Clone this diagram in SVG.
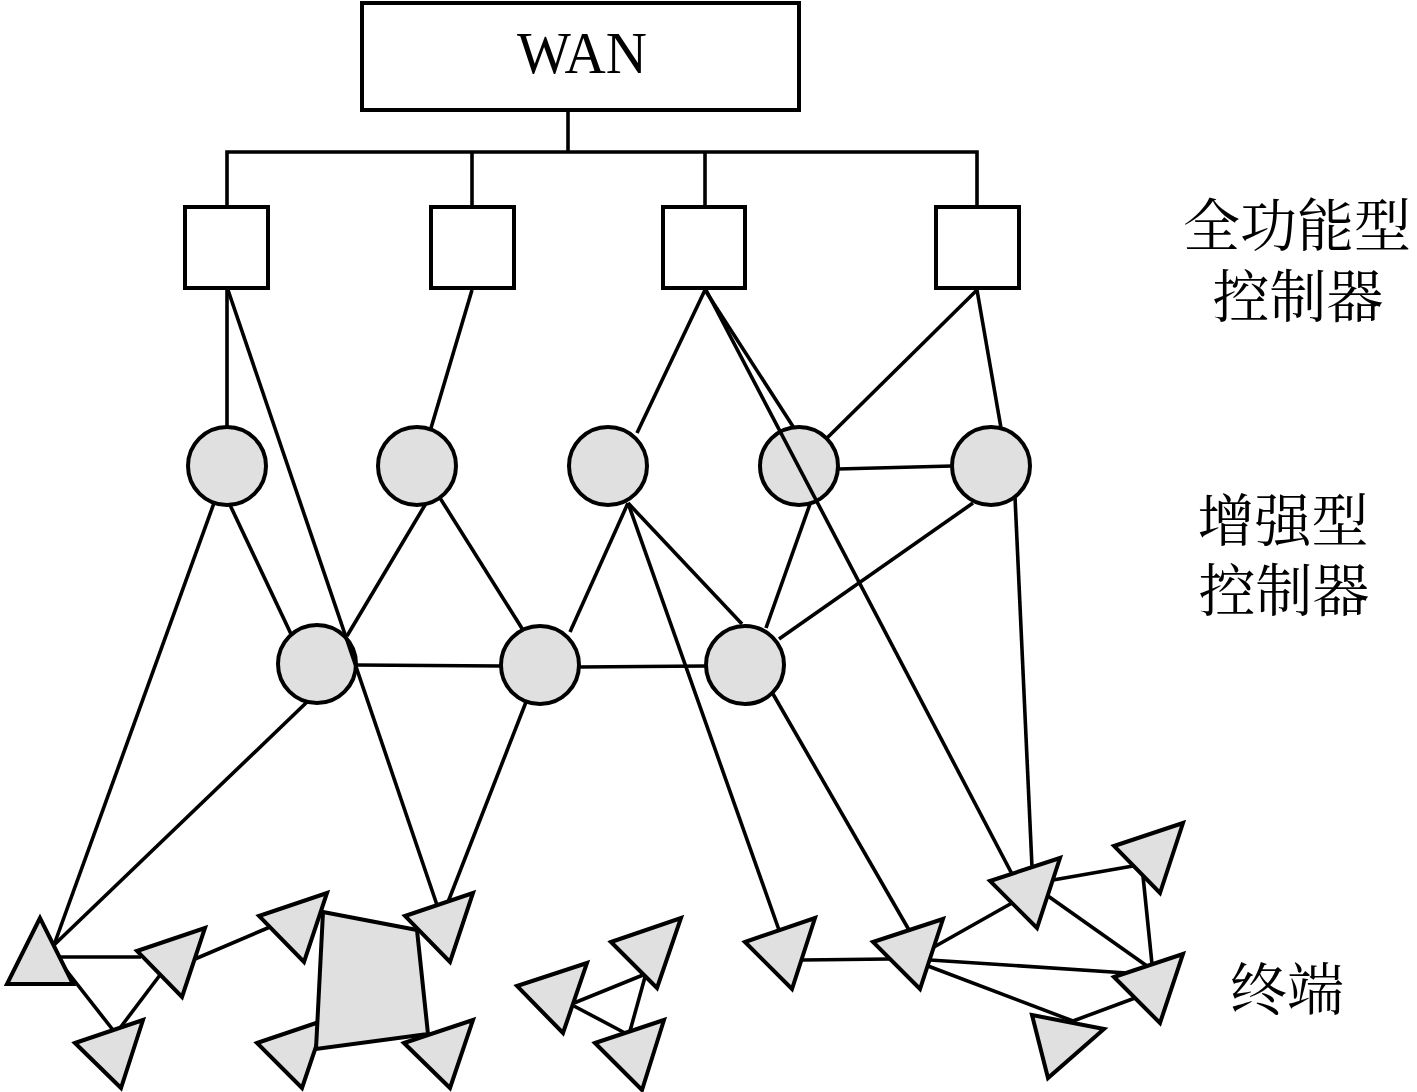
<svg xmlns="http://www.w3.org/2000/svg" width="1417" height="1092" viewBox="0 0 1417 1092">
<style>
.box{fill:#ffffff;stroke:#000;stroke-width:4}
.ec{fill:#e0e0e0;stroke:#000;stroke-width:4}
.tri{fill:#e0e0e0;stroke:#000;stroke-width:4;stroke-linejoin:miter}
.ln{stroke:#000;stroke-width:3.6;fill:none;stroke-linecap:butt}
.lbl{font-family:"Liberation Serif","Noto Serif CJK SC","Noto Sans CJK SC",serif;font-size:57px;fill:#000;text-anchor:middle}
.wan{font-family:"Liberation Serif","Times New Roman",serif;font-size:60px;fill:#000;text-anchor:middle}
</style>
<rect width="1417" height="1092" fill="#ffffff"/>

<g id="nodes">
  <g id="wan"><rect class="box" x="362" y="3" width="437" height="107"/><text class="wan" x="582" y="73" textLength="130" lengthAdjust="spacingAndGlyphs">WAN</text></g>
  <g id="ff1"><rect class="box" x="185" y="207" width="83" height="81"/></g>
  <g id="ff2"><rect class="box" x="431" y="207" width="83" height="81"/></g>
  <g id="ff3"><rect class="box" x="663" y="207" width="82" height="81"/></g>
  <g id="ff4"><rect class="box" x="936" y="207" width="83" height="81"/></g>

  <g id="ec1"><circle class="ec" cx="227" cy="466" r="39"/></g>
  <g id="ec2"><circle class="ec" cx="417" cy="466" r="39"/></g>
  <g id="ec3"><circle class="ec" cx="608" cy="466" r="39"/></g>
  <g id="ec4"><circle class="ec" cx="799" cy="466" r="39"/></g>
  <g id="ec5"><circle class="ec" cx="991" cy="466" r="39"/></g>
  <g id="ec6"><circle class="ec" cx="317" cy="664" r="39"/></g>
  <g id="ec7"><circle class="ec" cx="540" cy="665" r="39"/></g>
  <g id="ec8"><circle class="ec" cx="745" cy="665" r="39"/></g>

  <g id="tA"><polygon class="tri" points="40,918 7,984 73,984"/></g>
  <g id="tB"><polygon class="tri" points="137,951 205,928 182,997"/></g>
  <g id="tC"><polygon class="tri" points="75,1043 143,1020 121,1088"/></g>
  <g id="tD"><polygon class="tri" points="259,916 327,893 304,962"/></g>
  <g id="tE"><polygon class="tri" points="405,916 473,893 450,962"/></g>
  <g id="tF"><polygon class="tri" points="257,1043 325,1020 302,1088"/></g>
  <g id="tG"><polygon class="tri" points="404,1043 473,1020 450,1088"/></g>
  <g id="mesh"><polygon class="tri" points="323,912 417,930 428,1034 316,1049"/></g>
  <g id="tH"><polygon class="tri" points="517,986 587,963 563,1033"/></g>
  <g id="tI"><polygon class="tri" points="611,942 681,918 657,988"/></g>
  <g id="tJ"><polygon class="tri" points="595,1043 664,1020 642,1090"/></g>
  <g id="tK"><polygon class="tri" points="745,942 815,918 792,989"/></g>
  <g id="tL"><polygon class="tri" points="873,942 943,919 920,989"/></g>
  <g id="tM"><polygon class="tri" points="990,881 1060,858 1037,928"/></g>
  <g id="tN"><polygon class="tri" points="1114,846 1183,823 1160,893"/></g>
  <g id="tO"><polygon class="tri" points="1114,977 1183,954 1160,1023"/></g>
  <g id="tP"><polygon class="tri" points="1032,1015 1104,1029 1048,1078"/></g>
</g>

<g id="connectors">
  <polyline class="ln" points="568,110 568,152"/>
  <polyline class="ln" points="227,207 227,152 977,152 977,207"/>
  <line class="ln" x1="472" y1="152" x2="472" y2="207"/>
  <line class="ln" x1="705" y1="152" x2="705" y2="207"/>

  <line class="ln" x1="227" y1="290" x2="227" y2="427"/>
  <line class="ln" x1="228" y1="290" x2="437" y2="905"/>
  <line class="ln" x1="472" y1="290" x2="431" y2="428"/>
  <line class="ln" x1="705" y1="290" x2="637" y2="433"/>
  <line class="ln" x1="705" y1="290" x2="794" y2="428"/>
  <line class="ln" x1="706" y1="290" x2="1012" y2="874"/>
  <line class="ln" x1="977" y1="290" x2="827" y2="438"/>
  <line class="ln" x1="977" y1="290" x2="1001" y2="428"/>

  <line class="ln" x1="838" y1="469" x2="952" y2="466"/>
  <line class="ln" x1="230" y1="505" x2="291" y2="634"/>
  <line class="ln" x1="214" y1="503" x2="54" y2="945"/>
  <line class="ln" x1="425" y1="505" x2="347" y2="636"/>
  <line class="ln" x1="440" y1="498" x2="523" y2="630"/>
  <line class="ln" x1="356" y1="665" x2="501" y2="666"/>
  <line class="ln" x1="307" y1="702" x2="54" y2="945"/>
  <line class="ln" x1="526" y1="702" x2="448" y2="902"/>
  <line class="ln" x1="628" y1="503" x2="570" y2="632"/>
  <line class="ln" x1="628" y1="503" x2="742" y2="624"/>
  <line class="ln" x1="628" y1="503" x2="779" y2="930"/>
  <line class="ln" x1="579" y1="667" x2="706" y2="666"/>
  <line class="ln" x1="810" y1="504" x2="766" y2="628"/>
  <line class="ln" x1="973" y1="503" x2="779" y2="639"/>
  <line class="ln" x1="1015" y1="497" x2="1032" y2="867"/>
  <line class="ln" x1="773" y1="694" x2="909" y2="930"/>

  <line class="ln" x1="60" y1="957" x2="141" y2="957"/>
  <line class="ln" x1="66" y1="970" x2="113" y2="1030"/>
  <line class="ln" x1="160" y1="975" x2="120" y2="1028"/>
  <line class="ln" x1="195" y1="959" x2="270" y2="927"/>

  <line class="ln" x1="574" y1="1003" x2="643" y2="975"/>
  <line class="ln" x1="574" y1="1006" x2="625" y2="1033"/>
  <line class="ln" x1="645" y1="977" x2="630" y2="1031"/>

  <line class="ln" x1="802" y1="960" x2="890" y2="959"/>
  <line class="ln" x1="934" y1="947" x2="1012" y2="903"/>
  <line class="ln" x1="930" y1="960" x2="1127" y2="973"/>
  <line class="ln" x1="928" y1="966" x2="1073" y2="1021"/>
  <line class="ln" x1="1135" y1="998" x2="1073" y2="1021"/>
  <line class="ln" x1="1053" y1="880" x2="1133" y2="866"/>
  <line class="ln" x1="1143" y1="876" x2="1152" y2="964"/>
  <line class="ln" x1="1048" y1="896" x2="1147" y2="966"/>
</g>

<g id="labels">
  <text class="lbl" x="1297" y="246">全功能型</text>
  <text class="lbl" x="1298" y="317">控制器</text>
  <text class="lbl" x="1283" y="541">增强型</text>
  <text class="lbl" x="1284" y="611">控制器</text>
  <text class="lbl" x="1287" y="1010">终端</text>
</g>
</svg>
